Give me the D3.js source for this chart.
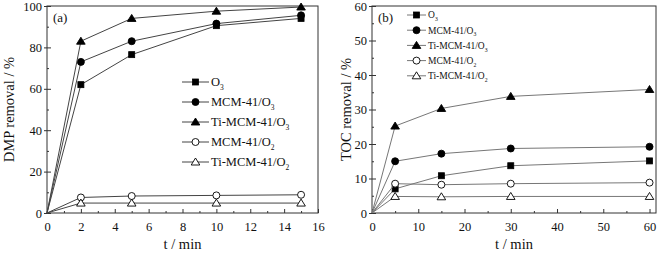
<!DOCTYPE html>
<html>
<head>
<meta charset="utf-8">
<script src="https://cdn.jsdelivr.net/npm/d3@7"></script>
<style>
  body { margin: 0; background: #fff; }
  svg { display: block; font-family: "Liberation Serif", "Times New Roman", serif; }
</style>
</head>
<body>
<svg width="661" height="255"></svg>
<script>
// series names (last digit is drawn as subscript)
var seriesNames = ['O3', 'MCM-41/O3', 'Ti-MCM-41/O3', 'MCM-41/O2', 'Ti-MCM-41/O2']
var markerTypes = ['square', 'circle', 'triangle', 'circle', 'triangle']
var markerFilled = [true, true, true, false, false]

// panel (a) : DMP removal
var timeA = [0, 2, 5, 10, 15]
var dmpO3 = [0, 62, 76.5, 90.5, 94]
var dmpMcmO3 = [0, 73, 83, 91.5, 95.5]
var dmpTiO3 = [0, 83, 94, 97.5, 99.5]
var dmpMcmO2 = [0, 7.5, 8.2, 8.5, 8.8]
var dmpTiO2 = [0, 4.8, 4.8, 4.8, 4.8]
var xTicksA = [0, 2, 4, 6, 8, 10, 12, 14, 16]
var yTicksA = [0, 20, 40, 60, 80, 100]

// panel (b) : TOC removal
var timeB = [0, 5, 15, 30, 60]
var tocO3 = [0, 7, 10.8, 13.7, 15.1]
var tocMcmO3 = [0, 15, 17.2, 18.7, 19.2]
var tocTiO3 = [0, 25.2, 30.3, 33.8, 35.8]
var tocMcmO2 = [0, 8.5, 8.2, 8.5, 8.8]
var tocTiO2 = [0, 4.8, 4.7, 4.8, 4.8]
var xTicksB = [0, 10, 20, 30, 40, 50, 60]
var yTicksB = [0, 10, 20, 30, 40, 50, 60]

var svg = d3.select('svg')
var serif = '"Liberation Serif", "Times New Roman", serif'

function drawMarker(g, type, filled, x, y) {
    var fill = filled ? '#000' : '#fff'
    if (type === 'square') {
        g.append('rect')
            .attr('x', x - 3).attr('y', y - 3)
            .attr('width', 6).attr('height', 6)
            .attr('fill', fill).attr('stroke', '#000').attr('stroke-width', 0.8)
    } else if (type === 'circle') {
        g.append('circle')
            .attr('cx', x).attr('cy', y).attr('r', 3.5)
            .attr('fill', fill).attr('stroke', '#000').attr('stroke-width', 0.9)
    } else {
        g.append('path')
            .attr('d', 'M' + x + ',' + (y - 4) + 'L' + (x + 4.3) + ',' + (y + 3) + 'L' + (x - 4.3) + ',' + (y + 3) + 'Z')
            .attr('fill', fill).attr('stroke', '#000').attr('stroke-width', 0.9)
    }
}

function subLabel(g, name, x, y, size) {
    var t = g.append('text')
        .attr('x', x).attr('y', y)
        .attr('dy', '0.35em')
        .attr('fill', '#111')
        .style('font-size', size + 'px')
    t.append('tspan').text(name.slice(0, -1))
    t.append('tspan').text(name.slice(-1))
        .attr('dy', size * 0.3)
        .style('font-size', (size * 0.6) + 'px')
}

function panel(opt) {
    var x = d3.scaleLinear().domain(opt.xDomain).range([opt.left, opt.right])
    var y = d3.scaleLinear().domain(opt.yDomain).range([opt.bottom, opt.top])
    var g = svg.append('g')

    // frame
    g.append('rect')
        .attr('x', opt.left).attr('y', opt.top)
        .attr('width', opt.right - opt.left).attr('height', opt.bottom - opt.top)
        .attr('fill', 'none').attr('stroke', '#333').attr('stroke-width', 1)

    // bottom axis ticks (inward)
    g.append('g')
        .attr('transform', 'translate(0,' + opt.bottom + ')')
        .call(d3.axisBottom(x).tickValues(opt.xMinor).tickSize(-2).tickFormat(''))
        .call(a => a.select('.domain').remove())
    g.append('g')
        .attr('transform', 'translate(0,' + opt.bottom + ')')
        .attr('font-family', serif)
        .call(d3.axisBottom(x).tickValues(opt.xTicks).tickSize(-4).tickPadding(9))
        .attr('font-family', serif)
        .call(a => a.select('.domain').remove())
        .call(a => a.selectAll('text').style('font-size', '12.5px').attr('fill', '#111'))

    // left axis ticks (crossing)
    g.append('g')
        .attr('transform', 'translate(' + opt.left + ',0)')
        .call(d3.axisLeft(y).tickValues(opt.yMinor).tickSize(-2).tickFormat(''))
        .call(a => a.select('.domain').remove())
    g.append('g')
        .attr('transform', 'translate(' + opt.left + ',0)')
        .call(d3.axisLeft(y).tickValues(opt.yTicks).tickSize(3).tickPadding(2))
        .attr('font-family', serif)
        .call(a => a.select('.domain').remove())
        .call(a => a.selectAll('text').style('font-size', '12.5px').attr('fill', '#111'))
        .call(a => a.selectAll('.tick').append('line').attr('x2', 4).attr('stroke', 'currentColor'))
    g.selectAll('.tick line').attr('stroke', '#333')

    // axis titles
    g.append('text')
        .attr('x', (opt.left + opt.right) / 2).attr('y', 249)
        .attr('text-anchor', 'middle')
        .attr('fill', '#111')
        .style('font-size', '14.5px')
        .text('t / min')
    g.append('text')
        .attr('transform', 'translate(' + opt.yTitleX + ',' + ((opt.top + opt.bottom) / 2) + ') rotate(-90)')
        .attr('text-anchor', 'middle')
        .attr('fill', '#111')
        .style('font-size', '14.5px')
        .text(opt.yTitle)
    g.append('text')
        .attr('x', opt.left + 6).attr('y', 22)
        .attr('fill', '#111')
        .style('font-size', '13px')
        .text(opt.tag)

    // series
    var line = d3.line().x(d => x(d[0])).y(d => y(d[1]))
    opt.series.forEach(function (vals, i) {
        var pts = opt.xs.map((t, j) => [t, vals[j]])
        g.append('path')
            .attr('d', line(pts))
            .attr('fill', 'none')
            .attr('stroke', opt.lineColor)
            .attr('stroke-width', 1)
        pts.forEach(function (p, j) {
            if (j === 0) return
            drawMarker(g, markerTypes[i], markerFilled[i], x(p[0]), y(p[1]))
        })
    })

    // legend
    seriesNames.forEach(function (name, i) {
        var ly = opt.legY + i * opt.legStep
        g.append('line')
            .attr('x1', opt.legX).attr('x2', opt.legX + opt.legLen)
            .attr('y1', ly).attr('y2', ly)
            .attr('stroke', opt.lineColor).attr('stroke-width', 1)
        drawMarker(g, markerTypes[i], markerFilled[i], opt.legX + opt.legLen / 2, ly)
        subLabel(g, name, opt.legX + opt.legLen + 2, ly, opt.legFont)
    })
}

panel({
    left: 47, right: 318, top: 6, bottom: 213,
    xDomain: [0, 16], yDomain: [0, 100],
    xTicks: xTicksA, xMinor: d3.range(1, 16, 2),
    yTicks: yTicksA, yMinor: d3.range(10, 100, 20),
    xs: timeA,
    series: [dmpO3, dmpMcmO3, dmpTiO3, dmpMcmO2, dmpTiO2],
    lineColor: '#444',
    yTitle: 'DMP removal / %', yTitleX: 14, tag: '(a)',
    legX: 182, legY: 82, legStep: 20, legLen: 27, legFont: 12.5
})

panel({
    left: 372, right: 656, top: 6, bottom: 213,
    xDomain: [0, 61.4], yDomain: [0, 60],
    xTicks: xTicksB, xMinor: d3.range(5, 60, 10),
    yTicks: yTicksB, yMinor: d3.range(5, 60, 10),
    xs: timeB,
    series: [tocO3, tocMcmO3, tocTiO3, tocMcmO2, tocTiO2],
    lineColor: '#777',
    yTitle: 'TOC removal / %', yTitleX: 351, tag: '(b)',
    legX: 407, legY: 15, legStep: 15.2, legLen: 19, legFont: 9.5
})
</script>
</body>
</html>
